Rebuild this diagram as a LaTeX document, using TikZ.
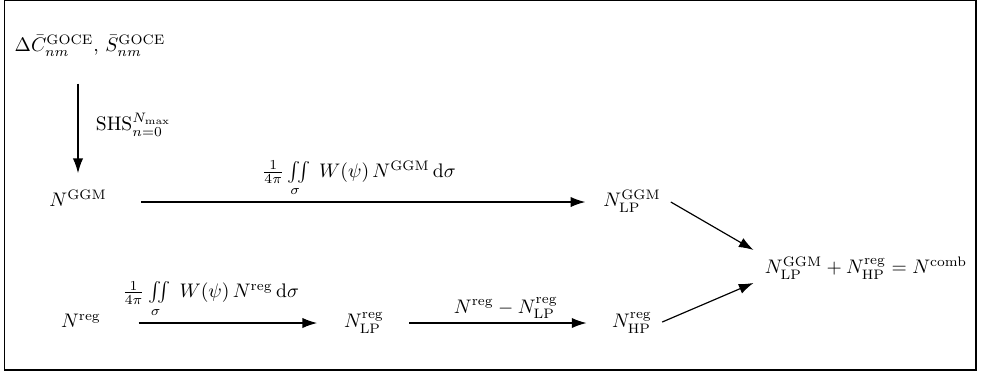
\documentclass[tikz,border=0pt]{standalone}
\usepackage{amsmath}
\usetikzlibrary{arrows.meta,calc}
\begin{document}
\begin{tikzpicture}[x=0.51pt,y=-0.51pt,
  lbl/.style={inner sep=0pt,text height=7pt,text depth=2pt},
  arr/.style={-{Latex[length=7.5pt,width=5.2pt]},line width=0.6pt}]
\useasboundingbox (0,0) rectangle (982,373);
\draw[line width=1pt] (4.5,0.5) rectangle (976,370);
% nodes
\node[lbl] (goce) at (90,47) {$\Delta\bar{C}_{nm}^{\mathrm{GOCE}}$, $\bar{S}_{nm}^{\mathrm{GOCE}}$};
\node[lbl] (ggm) at (78,202) {$N^{\mathrm{GGM}}$};
\node[lbl] (ggmlp) at (632,202) {$N^{\mathrm{GGM}}_{\mathrm{LP}}$};
\node[lbl] (reg) at (81,323) {$N^{\mathrm{reg}}$};
\node[lbl] (reglp) at (364,323) {$N^{\mathrm{reg}}_{\mathrm{LP}}$};
\node[lbl] (reghp) at (632,323) {$N^{\mathrm{reg}}_{\mathrm{HP}}$};
\node[lbl] (comb) at (866,269) {$N^{\mathrm{GGM}}_{\mathrm{LP}}+N^{\mathrm{reg}}_{\mathrm{HP}}=N^{\mathrm{comb}}$};
% connectors
\draw[arr,shorten <=14pt,shorten >=10pt] (goce.south -| ggm.north) -- (ggm.north)
  node[midway,right=5.5pt] {$\mathrm{SHS}_{n=0}^{N_{\max}}$};
\draw[arr,shorten <=17.5pt,shorten >=9pt] (ggm) -- (ggmlp)
  node[midway,above=-1pt,xshift=2pt] {$\frac{1}{4\pi}\iint\limits_{\sigma}\; W(\psi)\,N^{\mathrm{GGM}}\,\mathrm{d}\sigma$};
\draw[arr,shorten <=19pt,shorten >=13.5pt] (reg) -- (reglp)
  node[midway,above=-0.8pt,xshift=-6pt] {$\frac{1}{4\pi}\iint\limits_{\sigma}\; W(\psi)\,N^{\mathrm{reg}}\,\mathrm{d}\sigma$};
\draw[arr,shorten <=12.8pt,shorten >=12.8pt] (reglp) -- (reghp)
  node[midway,above=-1.5pt,xshift=4pt] {$N^{\mathrm{reg}}-N^{\mathrm{reg}}_{\mathrm{LP}}$};
\draw[arr] ([xshift=5pt]ggmlp.east) -- ([xshift=-5.6pt,yshift=9.7pt]comb.west);
\draw[arr] ([xshift=5pt,yshift=0.5pt]reghp.east) -- ([xshift=-5.6pt,yshift=-7.1pt]comb.west);
\end{tikzpicture}
\end{document}
